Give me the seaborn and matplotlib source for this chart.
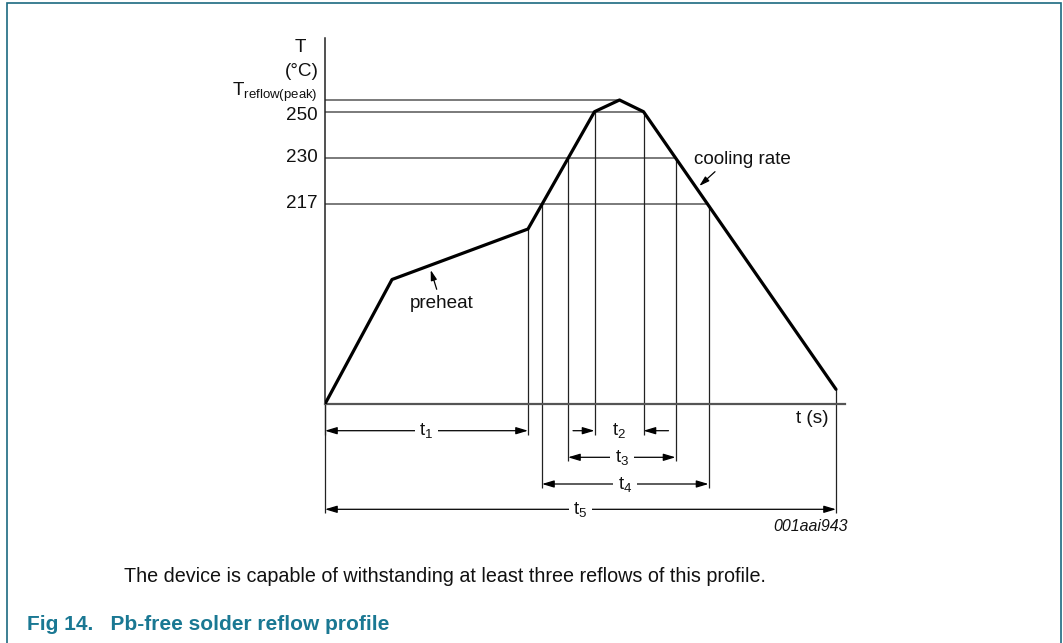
import numpy as np
import matplotlib
matplotlib.use("Agg")
import matplotlib.pyplot as plt
import seaborn as sns
from matplotlib.patches import Rectangle

# profile (schematic units: time -> right, temperature level -> up)
profile_t = [0, 67, 203, 269.5, 294.5, 318.5, 511]
profile_y = [0, 124.5, 175, 292.3, 304, 292.3, 14.7]

# temperature levels shown on the T axis
level_names = ["T$_\\mathregular{reflow(peak)}$", "250", "230", "217"]
level_y = [304, 292.3, 246.3, 200]
level_right = [294.5, 318.5, 350.5, 383.5]

# time spans below the axis
span_names = ["t$_1$", "t$_2$", "t$_3$", "t$_4$", "t$_5$"]
span_start = [0, 269.5, 243, 217, 0]
span_end = [203, 318.5, 350.5, 383.5, 511]

caption = "The device is capable of withstanding at least three reflows of this profile."
title = "Fig 14.   Pb-free solder reflow profile"

W, H = 1063, 643
teal = "#1b6a80"
ink = "#111111"

sns.set_theme(style="white")
plt.rcParams["font.family"] = ["Liberation Sans", "DejaVu Sans"]
plt.rcParams["mathtext.fontset"] = "custom"
plt.rcParams["mathtext.rm"] = "Liberation Sans"
plt.rcParams["mathtext.it"] = "Liberation Sans:italic"
plt.rcParams["mathtext.bf"] = "Liberation Sans:bold"

fig = plt.figure(figsize=(W / 100, H / 100), dpi=100)

# frame round the figure (open at the bottom)
fig.add_artist(Rectangle((7.3 / W, -0.1), (1061.3 - 7.3) / W, 1.1 - 3.3 / H,
                         transform=fig.transFigure, fill=False,
                         edgecolor=teal, lw=1.2))

ax = fig.add_axes([325 / W, (H - 404) / H, 520 / W, 366 / H])
ax.set_xlim(0, 520)
ax.set_ylim(0, 366)
ax.set_xticks([])
ax.set_yticks([])
ax.patch.set_alpha(0)
sns.despine(ax=ax)
ax.spines["left"].set_color("#222222")
ax.spines["left"].set_linewidth(1.1)
ax.spines["bottom"].set_color("#555555")
ax.spines["bottom"].set_linewidth(1.6)

# horizontal level lines
ax.hlines(level_y, 0, level_right, color="#707070", lw=1.3, zorder=2)

# vertical drop lines down to the span arrows
span_y = [-26.7, -26.7, -53.3, -80, -105.3]
for s, e, yy in zip(span_start, span_end, span_y):
    for x in (s, e):
        top = np.interp(x, profile_t, profile_y)
        ax.vlines(x, yy - 3.8, top, color="#222222", lw=0.9, zorder=2,
                  clip_on=False)

# the profile itself
sns.lineplot(x=profile_t, y=profile_y, ax=ax, color="black", lw=2.3,
             sort=False, estimator=None, zorder=3)

fs = 13.6
# axis labels
ax.text(-25, 357, "T", ha="center", va="center", fontsize=fs, color=ink)
ax.text(-23.5, 332, "(°C)", ha="center", va="center", fontsize=fs, color=ink)
ax.text(504, -14.3, "t (s)", ha="right", va="center", fontsize=fs, color=ink)

# level labels
label_y = [307.8, 288.3, 246.3, 200]
for name, yy in zip(level_names, label_y):
    va = "baseline" if name.startswith("T") else "center"
    ax.text(-7, yy, name, ha="right", va=va, fontsize=fs, color=ink,
            clip_on=False)

head = "head_length=0.4,head_width=0.12"
arrow = dict(arrowstyle="<|-|>," + head, mutation_scale=18, color="black",
             lw=0.9, shrinkA=0, shrinkB=0)
one_way = dict(arrowstyle="-|>," + head, mutation_scale=18, color="black",
               lw=0.9, shrinkA=0, shrinkB=0)

for name, s, e, yy in zip(span_names, span_start, span_end, span_y):
    mid = (s + e) / 2
    if name == "t$_2$":
        ax.annotate("", xy=(s, yy), xytext=(s - 21.5, yy),
                    arrowprops=one_way, annotation_clip=False)
        ax.annotate("", xy=(e, yy), xytext=(e + 25, yy),
                    arrowprops=one_way, annotation_clip=False)
    else:
        ax.annotate("", xy=(s, yy), xytext=(e, yy),
                    arrowprops=arrow, annotation_clip=False)
    ax.text(mid, yy, name, ha="center", va="center", fontsize=fs, color=ink,
            bbox=dict(boxstyle="square,pad=0.25", fc="white", ec="none"),
            zorder=4, clip_on=False)

# callouts
callout = dict(arrowstyle="-|>," + head, mutation_scale=15, color="black",
               lw=0.9, shrinkA=0, shrinkB=0)
ax.text(116.7, 101, "preheat", ha="center", va="center", fontsize=fs,
        color=ink)
ax.annotate("", xy=(105.7, 134), xytext=(111.7, 114.7), arrowprops=callout)
ax.text(369, 245, "cooling rate", ha="left", va="center", fontsize=fs,
        color=ink)
ax.annotate("", xy=(374.3, 218), xytext=(390, 232.3), arrowprops=callout)

ax.text(523, -122.7, "001aai943", ha="right", va="center", fontsize=11.5,
        style="italic", color=ink, clip_on=False)

fig.text(124 / W, 1 - 577 / H, caption, ha="left", va="center",
         fontsize=14.2, color=ink)
fig.text(27 / W, 1 - 624 / H, title, ha="left", va="center",
         fontsize=15, fontweight="bold", color="#1a7893")

fig.savefig("out.png", dpi=100)
